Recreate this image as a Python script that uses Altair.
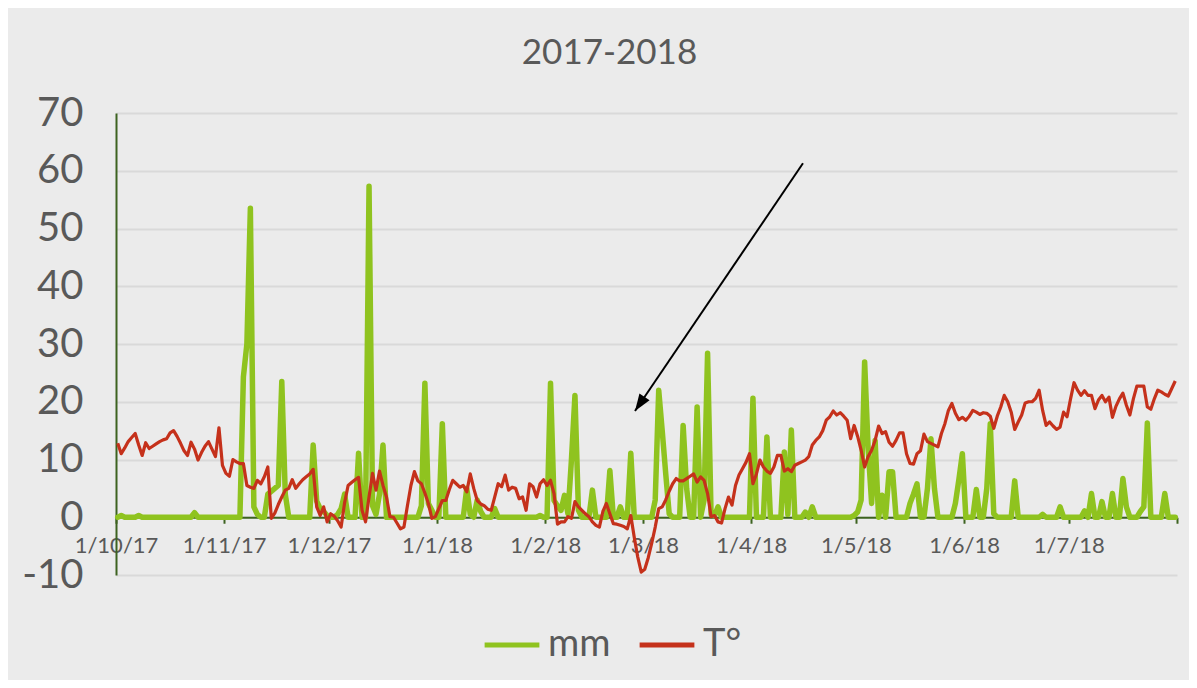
import altair as alt
import pandas as pd

# ---- precipitation (mm), daily, one list per month ----
oct_mm = [0, 0.3, 0, 0, 0, 0, 0.3, 0, 0, 0, 0, 0, 0, 0, 0, 0, 0, 0, 0, 0,
          0, 0, 0.8, 0, 0, 0, 0, 0, 0, 0, 0]
nov_mm = [0, 0, 0, 0, 0, 24.3, 30, 53.5, 1.8, 0.5, 0, 0, 4.0, 4.5, 5.0, 5.5, 23.5, 4.0, 0, 0,
          0, 0, 0, 0, 0, 12.5, 2.8, 1.5, 1.0, 0.3]
dec_mm = [0, 0, 0.5, 1.5, 4.0, 0, 0, 0, 11.1, 0, 0, 57.3, 2.0, 0.5, 4.0, 12.5, 0, 0, 0, 0,
          0, 0, 0, 0, 0, 0, 2.0, 23.2, 2.4, 1.2, 0]
jan_mm = [0, 16.2, 0, 0, 0, 0, 0, 0, 5.0, 0.5, 0, 3.0, 1.0, 0, 0, 0, 1.5, 0, 0, 0,
          0, 0, 0, 0, 0, 0, 0, 0, 0, 0.3, 0]
feb_mm = [0, 23.2, 2.9, 2.0, 1.2, 3.8, 0.6, 10.0, 21.1, 1.2, 0, 0, 0, 4.7, 0, 0, 0, 0, 8.1, 0,
          0, 1.8, 0, 0, 11.1, 0, 0, 0]
mar_mm = [0, 0, 0, 3.0, 22.0, 15.0, 7.6, 0.6, 0, 0, 0, 15.9, 5.0, 0, 0, 19.1, 0, 3.0, 28.4, 0.5,
          0.3, 1.8, 0, 0, 0, 0, 0, 0, 0, 0, 0]
apr_mm = [20.6, 0, 0, 0, 13.9, 0, 0, 0, 0, 11.3, 0.5, 15.1, 0, 0, 0, 0.9, 0, 1.8, 0, 0,
          0, 0, 0, 0, 0, 0, 0, 0, 0, 0.3]
may_mm = [0.9, 3.0, 26.9, 12.0, 2.4, 13.3, 0, 3.8, 0, 7.9, 7.9, 0, 0, 0, 0, 2.4, 4.0, 5.8, 0, 0,
          5.0, 13.6, 5.0, 0, 0, 0, 0, 0, 2.4, 6.5, 11.0]
jun_mm = [0, 0, 0, 4.8, 0, 0, 5.0, 16.2, 0.6, 0, 0, 0, 0, 0, 6.3, 0, 0, 0, 0, 0,
          0, 0, 0.5, 0, 0, 0, 0, 1.8, 0, 0]
jul_mm = [0, 0, 0, 0, 1.1, 0, 4.1, 0, 0, 2.7, 0, 0, 4.1, 0, 0, 6.7, 1.8, 0, 0, 0,
          1.0, 1.8, 16.3, 0, 0, 0, 0, 4.1, 0, 0, 0]

# ---- temperature (T°), daily, one list per month ----
oct_t = [12.8, 11.0, 12.0, 13.1, 13.8, 14.5, 12.5, 10.7, 12.9, 11.9, 12.3, 12.7, 13.1, 13.4, 13.6,
         14.6, 15.0, 14.0, 12.8, 11.5, 10.7, 13.0, 11.8, 9.9, 11.2, 12.3, 13.1, 11.8, 10.5, 15.5, 9.0]
nov_t = [7.6, 7.1, 10.0, 9.6, 9.3, 9.3, 5.5, 5.2, 5.0, 6.4, 5.8, 7.0, 8.7, -0.2, 0.7,
         2.2, 3.5, 4.7, 5.0, 6.5, 5.0, 5.8, 6.5, 7.0, 7.5, 8.3, 1.8, 0.3, 1.8, -0.8]
dec_t = [0.6, 0.2, -0.6, -1.7, 2.5, 5.5, 6.0, 6.5, 6.9, 1.2, -0.8, 3.5, 7.6, 4.7, 8.0,
         5.5, 3.5, 0.1, 0.0, -1.0, -2.0, -1.7, 2.0, 5.5, 7.9, 6.3, 5.8, 4.2, 2.4, -0.2, 0.1]
jan_t = [1.5, 2.9, 2.9, 4.8, 6.4, 5.8, 5.2, 5.5, 4.4, 7.5, 5.0, 2.9, 2.3, 2.0, 1.4,
         1.2, 3.5, 5.8, 5.3, 7.3, 4.7, 5.2, 5.0, 3.2, 3.5, 1.2, 5.8, 5.3, 3.5, 5.8, 6.5]
feb_t = [5.5, 6.4, 4.1, -1.2, -0.8, -0.8, 0.1, -0.2, 2.7, 1.8, 1.2, 0.6, 0.1, -0.8,
         -1.4, -1.7, 1.0, 2.4, 0.6, -1.1, -1.2, -1.4, -1.6, -2.0, 0.3, -3.5, -6.9, -9.5]
mar_t = [-9.0, -7.0, -4.5, -1.7, 1.5, 1.8, 3.0, 4.5, 5.8, 6.7, 6.3, 6.3, 6.7, 7.1, 7.5,
         6.1, 7.0, 6.4, 4.1, 0.1, 0.3, -0.8, -1.0, 1.5, 3.5, 2.1, 5.5, 7.3, 8.4, 9.5, 11.0]
apr_t = [5.8, 7.5, 9.9, 8.7, 8.0, 7.6, 8.7, 10.7, 10.7, 8.0, 8.4, 7.9, 9.0, 9.3, 9.6,
         9.9, 10.5, 12.5, 13.3, 13.9, 15.0, 16.8, 17.4, 18.4, 17.7, 18.1, 17.5, 16.8, 13.6, 15.9]
may_t = [14.0, 11.6, 8.7, 10.5, 11.6, 13.3, 15.8, 14.5, 14.8, 13.0, 12.3, 13.3, 14.6, 14.6, 11.0,
         9.3, 9.2, 11.0, 11.5, 14.4, 13.1, 12.8, 12.5, 12.2, 14.5, 16.2, 18.5, 19.7, 18.0, 16.9, 17.3]
jun_t = [16.8, 17.5, 18.5, 18.2, 17.8, 18.1, 18.0, 17.5, 15.4, 17.5, 19.1, 21.1, 20.0, 18.2, 15.2,
         16.5, 17.7, 19.8, 20.0, 20.0, 20.6, 22.0, 18.5, 15.9, 16.5, 15.8, 15.2, 15.6, 18.2, 17.4]
jul_t = [20.5, 23.3, 22.0, 21.1, 21.9, 21.1, 21.1, 18.8, 20.3, 21.1, 20.0, 20.8, 17.3, 19.2, 20.5,
         21.5, 19.4, 17.7, 20.5, 22.7, 22.7, 22.7, 19.1, 18.7, 20.5, 22.0, 21.7, 21.3, 21.0, 22.3, 23.6]

series_names = ["mm", "T°"]
series_colors = ["#8fc31f", "#c5311b"]
y_ticks = [-10, 0, 10, 20, 30, 40, 50, 60, 70]
month_starts = [(2017, 10), (2017, 11), (2017, 12), (2018, 1), (2018, 2), (2018, 3),
                (2018, 4), (2018, 5), (2018, 6), (2018, 7), (2018, 8)]

# annotation arrow (tail -> head), in data units
arrow_tail = ("2018-04-15T20:00:00", 61.3)
arrow_head = ("2018-02-26T17:00:00", 18.4)

mm = oct_mm + nov_mm + dec_mm + jan_mm + feb_mm + mar_mm + apr_mm + may_mm + jun_mm + jul_mm
temp = oct_t + nov_t + dec_t + jan_t + feb_t + mar_t + apr_t + may_t + jun_t + jul_t

df = pd.DataFrame({
    "date": list(pd.date_range("2017-10-01 12:00", periods=len(mm), freq="D"))
            + list(pd.date_range("2017-10-01 12:00", periods=len(temp), freq="D")),
    "value": mm + temp,
    "series": ["mm"] * len(mm) + ["T°"] * len(temp),
})

arrow_df = pd.DataFrame({
    "date": [pd.Timestamp(arrow_tail[0])], "value": [arrow_tail[1]],
    "date2": [pd.Timestamp(arrow_head[0])], "value2": [arrow_head[1]],
})

FONT = "Lato"
GREY = "#595959"
AXIS_GREEN = "#3d6320"

x_scale = alt.Scale(domain=[alt.DateTime(year=2017, month=10, date=1),
                            alt.DateTime(year=2018, month=8, date=1)])
y_scale = alt.Scale(domain=[-10, 70], nice=False, zero=False)

x_axis = alt.Axis(values=[alt.DateTime(year=y, month=m, date=1) for y, m in month_starts],
                  labelExpr="month(datum.value) == 7 ? '' : timeFormat(datum.value, '%-d/%-m/%y')",
                  grid=False, offset=-57.75, domainColor=AXIS_GREEN, domainWidth=2,
                  tickColor=AXIS_GREEN, tickWidth=2, tickSize=6,
                  labelFontSize=22, labelFont=FONT, labelColor=GREY,
                  labelPadding=12, labelFlush=False, labelOverlap=False)
y_axis = alt.Axis(values=y_ticks, labelExpr="'' + datum.value",
                  grid=True, gridColor="#d9d9d9", gridWidth=2,
                  domainColor=AXIS_GREEN, domainWidth=2, ticks=False,
                  labelFontSize=40, labelFont=FONT, labelColor=GREY,
                  labelPadding=33)

color = alt.Color("series:N", scale=alt.Scale(domain=series_names, range=series_colors),
                  legend=alt.Legend(title=None, orient="none", legendX=366, legendY=502,
                                    direction="horizontal", symbolType="stroke",
                                    symbolSize=3000, symbolStrokeWidth=5,
                                    labelFontSize=38, labelFont=FONT, labelColor=GREY,
                                    labelOffset=6, columnPadding=18, labelLimit=200))

x_enc = alt.X("date:T", scale=x_scale, title=None, axis=x_axis)
y_enc = alt.Y("value:Q", scale=y_scale, title=None, axis=y_axis)

base = alt.Chart(df)
green = base.transform_filter(alt.datum.series == "mm").mark_line(
    strokeWidth=5.5, strokeJoin="round", strokeCap="round").encode(x=x_enc, y=y_enc, color=color)
red = base.transform_filter(alt.datum.series == "T°").mark_line(
    strokeWidth=3.2, strokeJoin="round").encode(x=x_enc, y=y_enc, color=color)

arrow_line = alt.Chart(arrow_df).mark_rule(color="black", strokeWidth=2).encode(
    x=x_enc, x2="date2:T", y=y_enc, y2="value2:Q")
arrow_tip = alt.Chart(arrow_df).mark_point(
    shape="M0,0 L-0.36,1 L0.36,1 Z", filled=True, color="black", opacity=1,
    size=1156, angle=214, strokeWidth=0).encode(
    x=alt.X("date2:T", scale=x_scale, title=None, axis=x_axis),
    y=alt.Y("value2:Q", scale=y_scale, title=None, axis=y_axis))

chart = alt.layer(green, red, arrow_line, arrow_tip).properties(
    width=1061, height=462,
    padding={"left": 108, "top": 105, "right": 12, "bottom": 105},
    autosize=alt.AutoSizeParams(type="none"),
    background="#ebebeb",
    title=alt.Title("2017-2018", fontSize=35, font=FONT, color=GREY, fontWeight="normal",
                    anchor="middle", dx=-37, offset=22),
).configure_view(stroke=None)

chart.save("out.html", embed_options={"renderer": "svg", "actions": False})
